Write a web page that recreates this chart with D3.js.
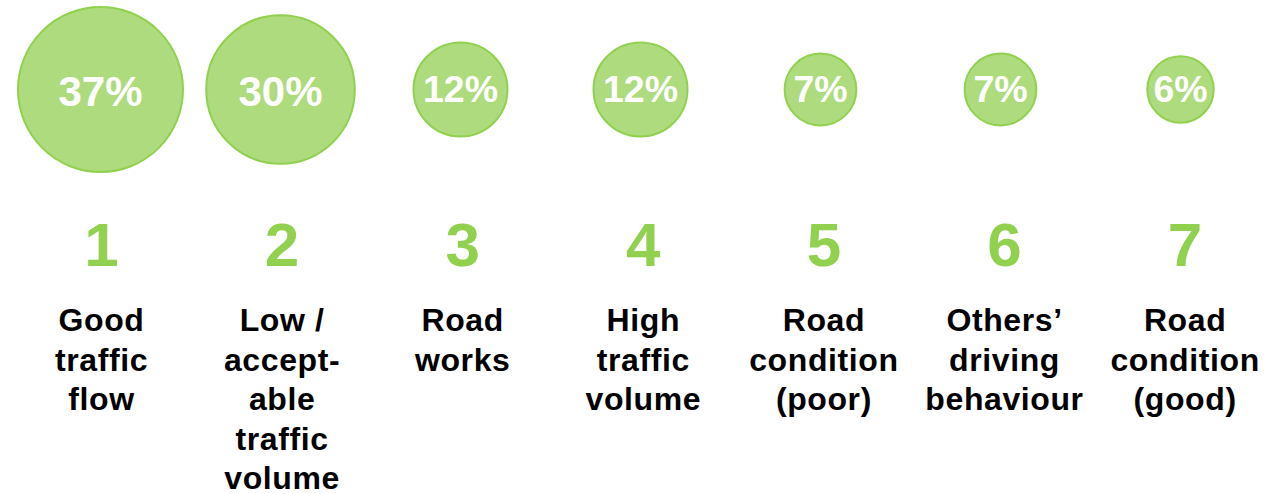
<!DOCTYPE html>
<html>
<head>
<meta charset="utf-8">
<script src="https://cdn.jsdelivr.net/npm/d3@7"></script>
<style>
  body { margin: 0; background: #fff; }
  svg { display: block; font-family: Arial, "Liberation Sans", sans-serif; }
</style>
</head>
<body>
<svg id="chart"></svg>
<script>
// ranks, shares (%) and labels
const ranks = [1, 2, 3, 4, 5, 6, 7];
const shares = [37, 30, 12, 12, 7, 7, 6];
const labels = [
    ["Good", "traffic", "flow"],
    ["Low /", "accept-", "able", "traffic", "volume"],
    ["Road", "works"],
    ["High", "traffic", "volume"],
    ["Road", "condition", "(poor)"],
    ["Others\u2019", "driving", "behaviour"],
    ["Road", "condition", "(good)"]
];

const width = 1284, height = 494;
const green = "#92d050";

const svg = d3.select("#chart")
    .attr("width", width)
    .attr("height", height);

// bubbles and text columns sit on slightly different grids in the original
const x = d3.scaleBand()
    .domain(ranks)
    .range([10.5, 1270.5]);

const xText = d3.scaleBand()
    .domain(ranks)
    .range([11.2, 1275.4]);

// bubble area proportional to share
const r = d3.scaleSqrt()
    .domain([0, d3.max(shares)])
    .range([0, 82.5]);

const data = ranks.map((rank, i) => ({rank, share: shares[i], label: labels[i]}));
const cy = 89.5;

const bubbles = svg.selectAll(".bubble")
    .data(data)
    .enter().append("g")
    .attr("class", "bubble")
    .attr("transform", d => `translate(${x(d.rank) + x.bandwidth() / 2},0)`);

bubbles.append("circle")
    .attr("cy", cy)
    .attr("r", d => r(d.share))
    .attr("fill", "#aedb7d")
    .attr("stroke", green)
    .attr("stroke-width", 2);

bubbles.append("text")
    .attr("y", cy)
    .attr("dy", d => r(d.share) > 60 ? "0.4em" : "0.34em")
    .attr("text-anchor", "middle")
    .attr("fill", "#fff")
    .attr("font-weight", "bold")
    .attr("font-size", d => r(d.share) > 60 ? 42 : 37.5)
    .text(d => d.share + "%");

const cols = svg.selectAll(".col")
    .data(data)
    .enter().append("g")
    .attr("class", "col")
    .attr("transform", d => `translate(${xText(d.rank) + xText.bandwidth() / 2},0)`);

cols.append("text")
    .attr("y", 266)
    .attr("text-anchor", "middle")
    .attr("fill", green)
    .attr("font-weight", "bold")
    .attr("font-size", 62)
    .text(d => d.rank);

cols.append("text")
    .attr("text-anchor", "middle")
    .attr("font-weight", "bold")
    .attr("font-size", 32)
    .attr("letter-spacing", 0.6)
    .attr("fill", "#000")
    .selectAll("tspan")
    .data(d => d.label)
    .enter().append("tspan")
    .attr("x", 0)
    .attr("y", (d, i) => 331 + i * 39.6)
    .text(d => d);
</script>
</body>
</html>
